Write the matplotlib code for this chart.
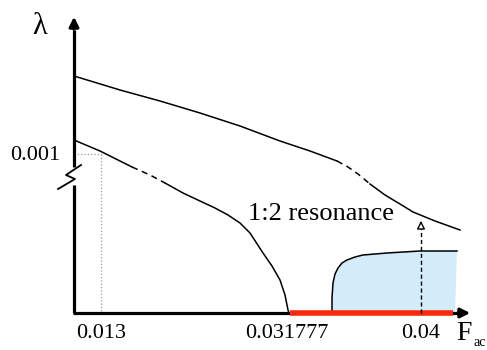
import matplotlib
matplotlib.use("Agg")
from matplotlib import pyplot as plt
import numpy as np

plt.rcParams['font.family'] = ['Liberation Serif', 'DejaVu Serif']

# schematic coordinates (x to the right, y downward as in the sketch)
upper_solid_a = ([74, 120, 160, 200, 240, 280, 310, 337],
                 [76, 90, 101, 113, 126, 141, 151, 161])
upper_dash = ([337, 348, 358, 370], [161, 167, 174, 184])
upper_solid_b = ([370, 385, 400, 413, 435, 460],
                 [184, 195, 204, 212, 221, 230])

lower_solid_a = ([74, 100, 132], [140, 151, 167])
lower_dash = ([132, 150, 165], [167, 175, 183])
lower_solid_b = ([165, 183, 200, 215, 228, 240, 250, 263, 272, 280, 285, 288, 289],
                 [183, 193, 201, 208, 215, 223, 233, 253, 266, 280, 295, 310, 313])

region_x = [332, 332, 333, 335, 338, 342, 347, 355, 363, 387, 420, 457]
region_y = [313, 298, 283, 274, 268, 263, 260, 257, 255, 253, 251, 251]

x_ticks = [101, 287, 421]
x_labels = ["0.013", "0.031777", "0.04"]
y_tick = 154
y_label = "0.001"

origin = (74, 313)
x_end = 473
y_end = 14
unstable_start, unstable_end = 290, 453
arrow_x, arrow_top = 421, 218

fig = plt.figure(figsize=(4.87, 3.5), dpi=100)
ax = fig.add_axes([0, 0, 1, 1])
ax.set_xlim(0, 487)
ax.set_ylim(350, 0)
ax.axis("off")

# shaded region
ax.fill(region_x + [455], region_y + [313], color="#d4ebfa", lw=0)
ax.plot(region_x, region_y, color="k", lw=1.1)

# curves
for (xs, ys), ls in [(upper_solid_a, "-"), (upper_dash, (0, (4, 3))), (upper_solid_b, "-"),
                     (lower_solid_a, "-"), (lower_dash, (0, (4, 3))), (lower_solid_b, "-")]:
    ax.plot(xs, ys, color="k", lw=1.1, linestyle=ls)

# dotted guides
ax.plot([origin[0], x_ticks[0]], [y_tick, y_tick], color="#9a9a9a", lw=0.9, linestyle=":")
ax.plot([x_ticks[0], x_ticks[0]], [y_tick, origin[1]], color="#9a9a9a", lw=0.9, linestyle=":")

# axes with break
ax.plot([origin[0], origin[0]], [origin[1], 185], color="k", lw=2.3, solid_capstyle="butt")
ax.plot([origin[0], origin[0]], [167, 30], color="k", lw=2.3, solid_capstyle="butt")
ax.annotate("", xy=(origin[0], y_end), xytext=(origin[0], 32),
            arrowprops=dict(arrowstyle="-|>", color="k", lw=2.3, mutation_scale=14))
ax.plot([81, 66, 75, 58], [165, 175, 179, 189], color="k", lw=1.3)

ax.plot([origin[0] - 1, 460], [origin[1], origin[1]], color="k", lw=2.3, solid_capstyle="butt")
ax.annotate("", xy=(x_end, origin[1]), xytext=(455, origin[1]),
            arrowprops=dict(arrowstyle="-|>", color="k", lw=2.3, mutation_scale=14))
ax.plot([unstable_start, unstable_end], [origin[1], origin[1]], color="#f92a0c", lw=4,
        solid_capstyle="butt")

# dashed arrow
ax.plot([arrow_x, arrow_x], [origin[1], arrow_top + 8], color="k", lw=1.0, linestyle=(0, (3, 2)))
ax.annotate("", xy=(arrow_x, arrow_top), xytext=(arrow_x, arrow_top + 10),
            arrowprops=dict(arrowstyle="-|>", fc="white", ec="k", lw=1.0, mutation_scale=12))

# labels
for xt, lab in zip(x_ticks, x_labels):
    ax.text(xt, 334, lab, ha="center", va="center", fontsize=16)
ax.text(60, y_tick + 1, y_label, ha="right", va="center", fontsize=16)
ax.text(40, 26, "λ", ha="center", va="center", fontsize=22)
ax.text(464, 333, "F", ha="center", va="center", fontsize=20)
ax.text(473, 342, "ac", ha="left", va="center", fontsize=10)
ax.text(248, 214, "1:2 resonance", ha="left", va="center", fontsize=19)

fig.savefig("out.png", dpi=100)
